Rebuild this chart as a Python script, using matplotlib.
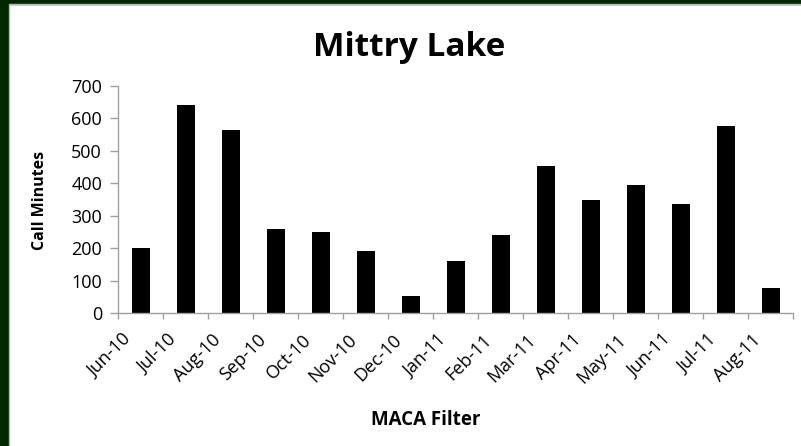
import matplotlib
matplotlib.use("Agg")
import matplotlib.pyplot as plt
import matplotlib.transforms as mtransforms
from matplotlib.patches import Rectangle

months = ["Jun-10", "Jul-10", "Aug-10", "Sep-10", "Oct-10", "Nov-10", "Dec-10",
          "Jan-11", "Feb-11", "Mar-11", "Apr-11", "May-11", "Jun-11", "Jul-11", "Aug-11"]
call_minutes = [200, 640, 563, 259, 250, 192, 53, 161, 241, 453, 348, 395, 336, 576, 78]

plt.rcParams['font.family'] = ['Open Sans', 'DejaVu Sans']

W, H = 801, 446
fig = plt.figure(figsize=(W / 100, H / 100), dpi=100)
fig.patch.set_facecolor("white")

# dark green frame on left and top, gray chart border
fig.patches.append(Rectangle((0, 0), 8 / W, 1, transform=fig.transFigure,
                             color="#022802", zorder=0))
fig.patches.append(Rectangle((0, 1 - 4 / H), 1, 4 / H, transform=fig.transFigure,
                             color="#022802", zorder=0))
fig.patches.append(Rectangle((8.5 / W, -0.01), 1, 1 - 4.5 / H + 0.01, transform=fig.transFigure,
                             fill=False, edgecolor="#b8b8b8", lw=1, zorder=1))

ax = fig.add_axes([118 / W, 1 - 313.3 / H, (793 - 118) / W, (313.3 - 85.7) / H])

x = list(range(len(months)))
ax.bar(x, call_minutes, width=0.4, color="black")

ax.set_xlim(-0.5, len(months) - 0.5)
ax.set_ylim(0, 700)
ax.set_yticks(range(0, 701, 100))

for s in ["top", "right"]:
    ax.spines[s].set_visible(False)
for s in ["left", "bottom"]:
    ax.spines[s].set_color("#a0a0a0")
    ax.spines[s].set_linewidth(1)

ax.tick_params(axis="y", colors="#a0a0a0", labelcolor="black", labelsize=13,
               length=5.5, width=1, pad=6)
ax.set_xticks([i + 0.5 for i in range(-1, len(months))], minor=False)
ax.set_xticklabels([])
ax.set_xticks(x, minor=True)
ax.set_xticklabels(months, minor=True, rotation=45, ha="right", va="center",
                   rotation_mode="anchor", fontsize=13)
ax.tick_params(axis="x", which="major", colors="#a0a0a0", length=4.5, width=1)
ax.tick_params(axis="x", which="minor", length=0, pad=17, labelcolor="black")
shift = mtransforms.ScaledTranslation(-0.12, 0, fig.dpi_scale_trans)
for lab in ax.get_xticklabels(minor=True):
    lab.set_transform(lab.get_transform() + shift)

fig.text(40 / W, 1 - 200 / H, "Call Minutes", fontsize=11.5, fontweight="bold",
         ha="center", va="center", rotation=90)
fig.text(425.5 / W, 1 - 420 / H, "MACA Filter", fontsize=13.5, fontweight="bold",
         ha="center", va="center")
fig.text(409 / W, 1 - 47 / H, "Mittry Lake", fontsize=24, fontweight="bold",
         ha="center", va="center")

fig.savefig("out.png", dpi=100)
